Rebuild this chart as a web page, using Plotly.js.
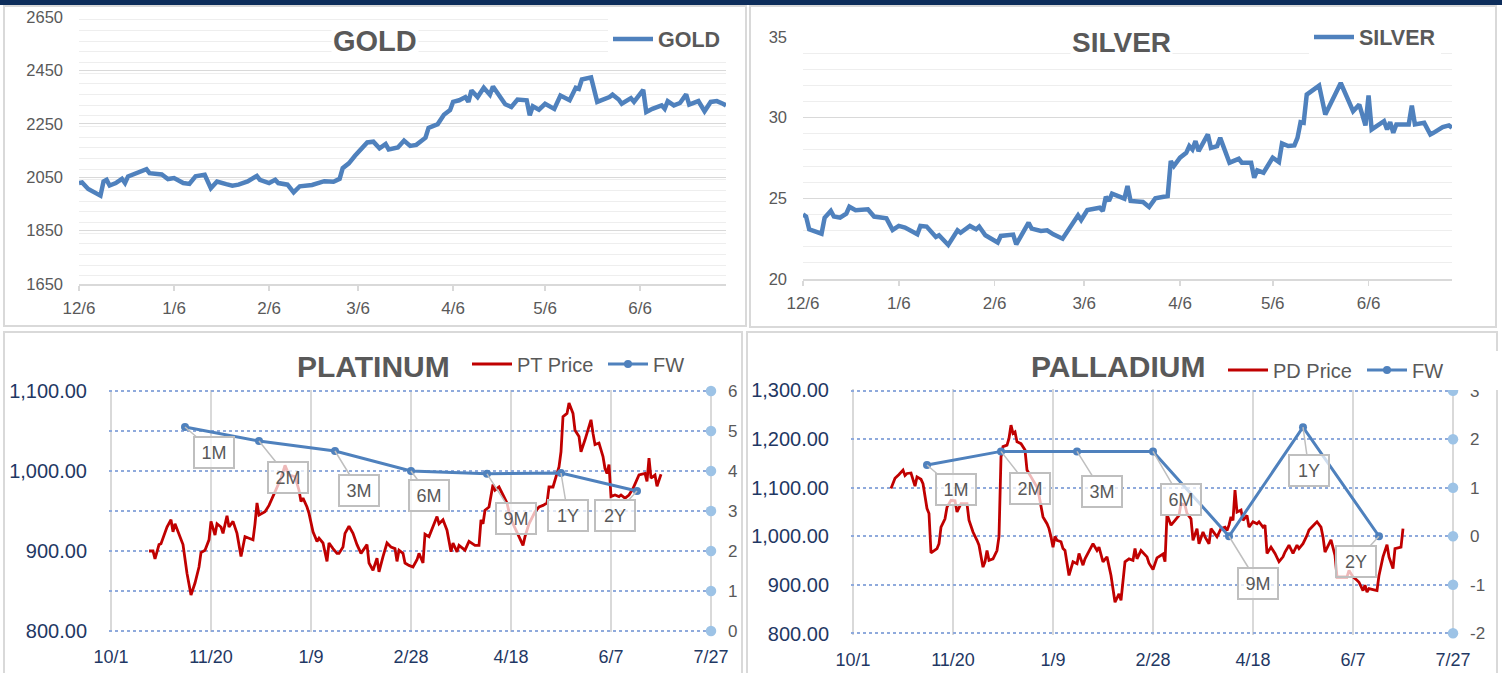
<!DOCTYPE html>
<html><head><meta charset="utf-8">
<script src="https://cdn.plot.ly/plotly-3.0.1.min.js"></script>
<style>html,body{margin:0;padding:0;background:#fff;overflow:hidden;}#chart{width:1502px;height:673px;}</style>
</head><body><div id="chart"></div>
<script>
// ---------------- DATA ----------------
const goldDates = ['2023-12-06','2023-12-07','2023-12-09','2023-12-11','2023-12-13','2023-12-14','2023-12-15','2023-12-16','2023-12-18','2023-12-20','2023-12-21','2023-12-22','2023-12-25','2023-12-28','2023-12-29','2024-01-02','2024-01-04','2024-01-06','2024-01-09','2024-01-11','2024-01-13','2024-01-16','2024-01-18','2024-01-20','2024-01-23','2024-01-25','2024-01-27','2024-01-30','2024-02-02','2024-02-03','2024-02-06','2024-02-08','2024-02-09','2024-02-12','2024-02-14','2024-02-16','2024-02-20','2024-02-22','2024-02-24','2024-02-27','2024-02-29','2024-03-01','2024-03-03','2024-03-05','2024-03-07','2024-03-09','2024-03-11','2024-03-13','2024-03-15','2024-03-16','2024-03-19','2024-03-21','2024-03-23','2024-03-25','2024-03-28','2024-03-29','2024-04-01','2024-04-03','2024-04-05','2024-04-06','2024-04-08','2024-04-10','2024-04-11','2024-04-12','2024-04-14','2024-04-16','2024-04-18','2024-04-19','2024-04-23','2024-04-25','2024-04-27','2024-04-30','2024-05-01','2024-05-02','2024-05-04','2024-05-06','2024-05-09','2024-05-11','2024-05-14','2024-05-16','2024-05-17','2024-05-18','2024-05-21','2024-05-23','2024-05-27','2024-05-28','2024-05-30','2024-05-31','2024-06-03','2024-06-04','2024-06-07','2024-06-08','2024-06-10','2024-06-13','2024-06-14','2024-06-15','2024-06-17','2024-06-19','2024-06-21','2024-06-22','2024-06-25','2024-06-27','2024-06-29','2024-07-01','2024-07-03','2024-07-04'];
const goldValues = [2028,2030,2006,1993,1981,2034,2040,2019,2028,2044,2028,2053,2065,2080,2065,2060,2043,2047,2028,2025,2053,2059,2009,2034,2024,2018,2022,2034,2055,2040,2028,2040,2028,2022,1993,2016,2021,2030,2035,2033,2044,2084,2102,2130,2154,2180,2183,2158,2174,2154,2161,2187,2167,2171,2198,2235,2249,2284,2301,2332,2338,2350,2332,2375,2350,2385,2359,2390,2323,2313,2341,2338,2282,2316,2303,2325,2306,2356,2338,2385,2381,2416,2424,2332,2350,2359,2341,2325,2346,2332,2377,2294,2306,2319,2306,2335,2319,2328,2360,2322,2335,2297,2332,2335,2325,2319];

const silverDates = ['2023-12-06','2023-12-07','2023-12-08','2023-12-10','2023-12-12','2023-12-13','2023-12-15','2023-12-16','2023-12-18','2023-12-20','2023-12-21','2023-12-23','2023-12-27','2023-12-29','2024-01-02','2024-01-04','2024-01-06','2024-01-08','2024-01-12','2024-01-13','2024-01-15','2024-01-18','2024-01-19','2024-01-22','2024-01-25','2024-01-26','2024-01-29','2024-01-31','2024-02-01','2024-02-03','2024-02-05','2024-02-07','2024-02-08','2024-02-12','2024-02-13','2024-02-17','2024-02-18','2024-02-21','2024-02-23','2024-02-25','2024-02-28','2024-03-02','2024-03-04','2024-03-05','2024-03-07','2024-03-11','2024-03-12','2024-03-13','2024-03-14','2024-03-15','2024-03-19','2024-03-20','2024-03-21','2024-03-25','2024-03-27','2024-03-29','2024-04-02','2024-04-03','2024-04-04','2024-04-06','2024-04-08','2024-04-09','2024-04-10','2024-04-11','2024-04-12','2024-04-15','2024-04-16','2024-04-18','2024-04-19','2024-04-22','2024-04-23','2024-04-25','2024-04-26','2024-04-29','2024-04-30','2024-05-01','2024-05-03','2024-05-05','2024-05-06','2024-05-08','2024-05-09','2024-05-11','2024-05-13','2024-05-14','2024-05-15','2024-05-16','2024-05-17','2024-05-21','2024-05-23','2024-05-28','2024-06-01','2024-06-03','2024-06-05','2024-06-06','2024-06-07','2024-06-11','2024-06-12','2024-06-13','2024-06-14','2024-06-15','2024-06-19','2024-06-20','2024-06-21','2024-06-24','2024-06-26','2024-06-27','2024-06-30','2024-07-02','2024-07-03'];
const silverValues = [24.0,23.87,23.08,22.98,22.81,23.8,24.22,23.87,23.8,24.05,24.48,24.26,24.32,23.87,23.76,23.04,23.29,23.19,22.77,23.29,23.25,22.61,22.71,22.11,23.02,22.87,23.29,23.08,23.25,22.71,22.46,22.26,22.67,22.75,22.15,23.49,23.12,22.98,23.02,22.77,22.5,23.39,23.95,23.66,24.28,24.42,24.22,25.1,24.84,25.29,24.98,25.76,24.84,24.77,24.46,25.0,25.14,27.31,27.0,27.52,27.82,28.24,28.03,28.55,27.93,28.96,28.13,28.24,28.75,27.21,27.27,27.45,27.21,27.21,26.28,26.73,26.59,27.27,27.52,27.25,28.4,28.24,28.28,28.75,29.72,29.68,31.43,31.99,30.2,32.15,30.4,30.81,29.52,31.37,29.27,29.78,29.27,29.72,29.06,29.58,29.58,30.75,29.58,29.68,28.96,29.06,29.41,29.52,29.37];

const ptDates = ['2023-10-20','2023-10-22','2023-10-23','2023-10-25','2023-10-26','2023-10-29','2023-10-31','2023-11-01','2023-11-02','2023-11-04','2023-11-06','2023-11-08','2023-11-10','2023-11-12','2023-11-14','2023-11-15','2023-11-17','2023-11-19','2023-11-20','2023-11-22','2023-11-23','2023-11-25','2023-11-26','2023-11-28','2023-11-29','2023-12-01','2023-12-03','2023-12-05','2023-12-07','2023-12-09','2023-12-11','2023-12-12','2023-12-13','2023-12-14','2023-12-17','2023-12-19','2023-12-21','2023-12-23','2023-12-25','2023-12-27','2023-12-29','2024-01-01','2024-01-03','2024-01-04','2024-01-05','2024-01-07','2024-01-08','2024-01-10','2024-01-12','2024-01-13','2024-01-15','2024-01-17','2024-01-18','2024-01-20','2024-01-22','2024-01-23','2024-01-25','2024-01-26','2024-01-28','2024-01-30','2024-02-01','2024-02-03','2024-02-06','2024-02-07','2024-02-09','2024-02-11','2024-02-12','2024-02-14','2024-02-16','2024-02-18','2024-02-20','2024-02-21','2024-02-22','2024-02-24','2024-02-25','2024-02-27','2024-02-29','2024-03-02','2024-03-03','2024-03-05','2024-03-06','2024-03-08','2024-03-10','2024-03-12','2024-03-13','2024-03-15','2024-03-17','2024-03-19','2024-03-20','2024-03-22','2024-03-23','2024-03-26','2024-03-28','2024-03-31','2024-04-02','2024-04-03','2024-04-04','2024-04-05','2024-04-07','2024-04-09','2024-04-10','2024-04-12','2024-04-14','2024-04-16','2024-04-17','2024-04-19','2024-04-22','2024-04-24','2024-04-25','2024-04-27','2024-04-30','2024-05-02','2024-05-04','2024-05-06','2024-05-07','2024-05-09','2024-05-11','2024-05-12','2024-05-13','2024-05-14','2024-05-16','2024-05-17','2024-05-19','2024-05-20','2024-05-22','2024-05-23','2024-05-25','2024-05-27','2024-05-28','2024-05-29','2024-05-30','2024-06-01','2024-06-03','2024-06-04','2024-06-05','2024-06-06','2024-06-07','2024-06-09','2024-06-11','2024-06-12','2024-06-14','2024-06-16','2024-06-18','2024-06-21','2024-06-23','2024-06-24','2024-06-25','2024-06-26','2024-06-27','2024-06-29','2024-06-30','2024-07-02'];
const ptPrice = [900,900,890,908,909,930,939,924,934,922,908,872,845,860,880,898,901,914,937,920,934,930,922,944,930,937,922,893,918,916,914,934,960,945,949,957,968,978,991,1007,995,993,976,962,966,955,947,924,912,916,910,887,910,903,897,897,905,922,931,922,908,897,908,885,876,891,874,893,910,905,903,887,901,897,885,882,880,889,897,885,921,918,930,943,934,939,926,899,910,899,907,901,912,907,907,939,934,951,955,983,976,980,970,960,949,934,918,907,918,934,949,955,957,960,980,980,997,1005,1024,1068,1072,1085,1072,1051,1043,1024,1039,1055,1064,1047,1033,1035,1018,1003,997,1008,968,970,968,970,966,970,978,995,997,997,987,1016,991,995,981,996];

const pdDates = ['2023-10-20','2023-10-22','2023-10-24','2023-10-26','2023-10-27','2023-10-28','2023-10-30','2023-11-01','2023-11-02','2023-11-04','2023-11-05','2023-11-07','2023-11-08','2023-11-09','2023-11-12','2023-11-13','2023-11-14','2023-11-16','2023-11-17','2023-11-19','2023-11-21','2023-11-22','2023-11-24','2023-11-27','2023-11-28','2023-11-30','2023-12-02','2023-12-03','2023-12-05','2023-12-06','2023-12-07','2023-12-08','2023-12-10','2023-12-12','2023-12-13','2023-12-14','2023-12-15','2023-12-17','2023-12-18','2023-12-19','2023-12-20','2023-12-21','2023-12-22','2023-12-24','2023-12-26','2023-12-27','2023-12-29','2024-01-01','2024-01-02','2024-01-04','2024-01-06','2024-01-07','2024-01-08','2024-01-09','2024-01-10','2024-01-11','2024-01-13','2024-01-14','2024-01-15','2024-01-17','2024-01-19','2024-01-21','2024-01-22','2024-01-24','2024-01-25','2024-01-27','2024-01-29','2024-01-31','2024-02-01','2024-02-03','2024-02-05','2024-02-07','2024-02-08','2024-02-09','2024-02-11','2024-02-12','2024-02-14','2024-02-16','2024-02-18','2024-02-19','2024-02-20','2024-02-22','2024-02-25','2024-02-26','2024-02-28','2024-03-01','2024-03-04','2024-03-05','2024-03-06','2024-03-08','2024-03-10','2024-03-12','2024-03-13','2024-03-15','2024-03-16','2024-03-18','2024-03-19','2024-03-21','2024-03-22','2024-03-24','2024-03-25','2024-03-27','2024-03-28','2024-03-30','2024-03-31','2024-04-02','2024-04-04','2024-04-05','2024-04-06','2024-04-07','2024-04-08','2024-04-09','2024-04-10','2024-04-12','2024-04-13','2024-04-15','2024-04-16','2024-04-18','2024-04-20','2024-04-21','2024-04-23','2024-04-24','2024-04-25','2024-04-27','2024-04-29','2024-05-01','2024-05-03','2024-05-04','2024-05-06','2024-05-08','2024-05-10','2024-05-11','2024-05-13','2024-05-15','2024-05-16','2024-05-19','2024-05-20','2024-05-22','2024-05-23','2024-05-24','2024-05-26','2024-05-27','2024-05-29','2024-05-30','2024-06-02','2024-06-04','2024-06-05','2024-06-07','2024-06-09','2024-06-10','2024-06-12','2024-06-13','2024-06-14','2024-06-15','2024-06-17','2024-06-19','2024-06-20','2024-06-22','2024-06-24','2024-06-25','2024-06-27','2024-06-28','2024-06-30','2024-07-01','2024-07-02'];
const pdPrice = [1098,1119,1127,1136,1125,1129,1130,1103,1122,1117,1108,1057,1047,966,975,985,1019,1036,1060,1074,1073,1050,1067,1067,1033,1009,992,982,937,948,971,951,954,971,1000,1163,1184,1187,1201,1228,1211,1214,1194,1190,1177,1136,1122,1101,1084,1040,1026,1016,999,978,1000,992,989,975,971,920,948,944,965,941,954,968,985,971,978,948,958,920,896,865,882,869,948,954,951,975,954,971,958,945,932,956,964,948,1045,1023,1033,1043,1067,1064,1047,1036,992,1016,985,1009,999,985,1016,1006,999,1016,1019,1012,1023,1040,1033,1095,1050,1054,1033,1043,1019,1030,1026,1030,1019,1023,965,978,965,948,958,968,982,965,982,975,985,1002,1013,1026,1030,1019,999,968,985,993,961,917,917,917,930,917,910,906,889,900,886,893,891,889,920,958,983,958,934,975,977,978,1016];

const fwLabels = ['1M','2M','3M','6M','9M','1Y','2Y'];
const fwDates = ['2023-11-07','2023-12-14','2024-01-21','2024-02-28','2024-04-06','2024-05-13','2024-06-20'];
const ptFW = [5.1,4.75,4.5,4.0,3.93,3.95,3.5];
const pdFW = [1.47,1.75,1.75,1.75,0.0,2.25,0.0];

const ptRightTicks = [0,1,2,3,4,5,6];
const pdRightTicks = [-2,-1,0,1,2,3];

// ---------------- STYLE / POSITIONS ----------------
const W = 1502, H = 673;
const px = x => x / W, py = y => 1 - y / H;
const FONT = 'Liberation Sans, Arial, sans-serif';
const GRAY = '#595959', NAVY = '#1F3864', BLUE = '#4F81BD', RED = '#C00000';
const DOT_BLUE = '#8FAADC', DOT_RIGHT = '#9DC3E6';
const ptCalloutOffsets = [[29,25],[29,36],[24,39],[18,24],[29,45],[7,42],[-22,24]];
const pdCalloutOffsets = [[29,25],[29,37],[25,40],[28,48],[29,47],[6,43],[-23,25]];
const BOTTOM_X_START = '2023-10-01', BOTTOM_X_END = '2024-07-27';
// one day of padding on each side (domain widened by the same 2 px) so edge grid lines are drawn
const BOTTOM_X_RANGE = ['2023-09-30', '2024-07-28'];
const DAY = 86400000;

const traces = [
  {x: goldDates, y: goldValues, xaxis:'x', yaxis:'y', type:'scatter', mode:'lines', name:'GOLD',
   line:{color:BLUE, width:4.5}, legend:'legend'},
  {x: silverDates, y: silverValues, xaxis:'x2', yaxis:'y2', type:'scatter', mode:'lines', name:'SILVER',
   line:{color:BLUE, width:4.5}, legend:'legend2'},
  {x: ptDates, y: ptPrice, xaxis:'x3', yaxis:'y3', type:'scatter', mode:'lines', name:'PT Price',
   line:{color:RED, width:2.8}, legend:'legend3'},
  {x: fwDates, y: ptFW, xaxis:'x3', yaxis:'y4', type:'scatter', mode:'lines+markers', name:'FW',
   line:{color:BLUE, width:3}, marker:{color:BLUE, size:8}, legend:'legend3'},
  {x: ptRightTicks.map(() => BOTTOM_X_END), y: ptRightTicks, xaxis:'x3', yaxis:'y4', type:'scatter',
   mode:'markers', marker:{color:DOT_RIGHT, size:10.5}, showlegend:false, cliponaxis:false, hoverinfo:'skip'},
  {x: pdDates, y: pdPrice, xaxis:'x4', yaxis:'y5', type:'scatter', mode:'lines', name:'PD Price',
   line:{color:RED, width:2.8}, legend:'legend4'},
  {x: fwDates, y: pdFW, xaxis:'x4', yaxis:'y6', type:'scatter', mode:'lines+markers', name:'FW',
   line:{color:BLUE, width:3}, marker:{color:BLUE, size:8}, legend:'legend4'},
  {x: pdRightTicks.map(() => BOTTOM_X_END), y: pdRightTicks, xaxis:'x4', yaxis:'y6', type:'scatter',
   mode:'markers', marker:{color:DOT_RIGHT, size:10.5}, showlegend:false, cliponaxis:false, hoverinfo:'skip'}
];

const topX = (dom, anchor, end) => ({
  domain: dom, anchor: anchor, type:'date', range:['2023-12-06', end],
  tick0:'2023-12-06', dtick:'M1', tickformat:'%-m/%-d',
  showgrid:false, showline:true, linecolor:'#D9D9D9', linewidth:1.5,
  ticks:'outside', ticklen:5, tickcolor:'#D9D9D9', tickwidth:1.5,
  tickfont:{family:FONT, size:17, color:GRAY}, ticklabelstandoff:3, zeroline:false
});
const topY = (dom, anchor, range, dtick, minor) => ({
  domain: dom, anchor: anchor, range: range, tick0: range[0], dtick: dtick,
  showgrid:true, gridcolor:'#D9D9D9', gridwidth:1.3, showline:false, zeroline:false,
  minor:{dtick:minor, showgrid:true, gridcolor:'#EEEEEE', gridwidth:1},
  ticks:'', tickfont:{family:FONT, size:16.5, color:GRAY}, ticklabelstandoff:15
});
const botX = (dom, anchor) => ({
  domain: dom, anchor: anchor, type:'date', range: BOTTOM_X_RANGE,
  tick0: BOTTOM_X_START, dtick: 50*DAY, tickformat:'%-m/%-d',
  showgrid:true, gridcolor:'#D9D9D9', gridwidth:1.5, showline:false, zeroline:false,
  ticks:'', tickfont:{family:FONT, size:18, color:NAVY}, ticklabelstandoff:12
});
const botYL = (dom, anchor, range) => ({
  domain: dom, anchor: anchor, range: range, dtick:100, tick0:0, tickformat:',.2f',
  showgrid:false, zeroline:false, showline:false, ticks:'',
  tickfont:{family:FONT, size:20, color:NAVY}, ticklabelstandoff:21
});
const botYR = (over, anchor, range, ticks) => ({
  overlaying: over, anchor: anchor, side:'right', range: range,
  tickmode:'array', tickvals: ticks, ticktext: ticks.map(String),
  showgrid:true, griddash:'dot', gridcolor:DOT_BLUE, gridwidth:1.6, zeroline:false, showline:false, ticks:'',
  tickfont:{family:FONT, size:17, color:GRAY}, ticklabelstandoff:14
});

const titleAnn = (text, x, y, size) => ({
  text: '<b>' + text + '</b>', xref:'paper', yref:'paper', x: px(x), y: py(y),
  xanchor:'center', yanchor:'middle', showarrow:false, bgcolor:'#FFFFFF',
  font:{family:FONT, size:size, color:GRAY}
});

const callouts = (labels, dates, vals, offsets, xref, yref) => labels.map((t, i) => ({
  text: t, x: dates[i], y: vals[i], xref: xref, yref: yref,
  showarrow:true, ax: offsets[i][0], ay: offsets[i][1], arrowhead:0, arrowwidth:1.5,
  arrowcolor:'#BFBFBF', standoff:0,
  bordercolor:'#BFBFBF', borderwidth:2, borderpad:1, bgcolor:'rgba(255,255,255,0.72)',
  width:36, height:27, font:{family:FONT, size:18, color:GRAY}
}));

const panel = (x0, y0, x1, y1) => ({type:'rect', xref:'paper', yref:'paper',
  x0: px(x0), x1: px(x1), y0: py(y1), y1: py(y0), line:{color:'#D9D9D9', width:2}, layer:'below'});

const legendBase = (x, y, size, bold, entry) => {
  const l = {
    x: px(x), y: py(y), xanchor:'left', yanchor:'middle', orientation:'h',
    bgcolor:'#FFFFFF', borderwidth:0, itemwidth:40,
    font:{family:FONT, size:size, color:GRAY, weight: bold ? 'bold' : 'normal'}
  };
  if (entry) { l.entrywidth = entry; l.entrywidthmode = 'pixels'; }
  return l;
};

const layout = {
  width: W, height: H, autosize:false,
  margin:{l:0, r:0, t:0, b:0, autoexpand:false},
  paper_bgcolor:'#FFFFFF', plot_bgcolor:'rgba(0,0,0,0)',
  font:{family:FONT},
  xaxis: topX([px(79), px(726)], 'y', '2024-07-04'),
  yaxis: topY([py(284), py(16.2)], 'x', [1650, 2653], 200, 40),
  xaxis2: topX([px(803), px(1452)], 'y2', '2024-07-03'),
  yaxis2: topY([py(279), py(36.2)], 'x2', [20, 35.05], 5, 1),
  xaxis3: botX([px(109), px(713)], 'y3'),
  yaxis3: botYL([py(632.2), py(389.8)], 'x3', [798.5, 1101.5]),
  yaxis4: botYR('y3', 'x3', [-0.03, 6.03], ptRightTicks),
  xaxis4: botX([px(851), px(1455)], 'y5'),
  yaxis5: botYL([py(634.7), py(389.3)], 'x4', [798.5, 1301.5]),
  yaxis6: botYR('y5', 'x4', [-2.03, 3.03], pdRightTicks),
  legend: legendBase(608, 39, 21.5, true),
  legend2: legendBase(1309, 37, 21.5, true),
  legend3: legendBase(467, 364, 20, false, 81),
  legend4: legendBase(1223, 370, 20, false, 84),
  shapes: [
    {type:'rect', xref:'paper', yref:'paper', x0:0, x1:1, y0:py(5), y1:1, fillcolor:'#0D2D5B', line:{width:0}, layer:'above'},
    panel(4, 6, 746, 326), panel(750, 6, 1496, 327),
    panel(4, 332, 742, 680), panel(747, 332, 1497, 680)
  ],
  annotations: [
    titleAnn('GOLD', 375, 41, 29),
    titleAnn('SILVER', 1121, 42, 28),
    titleAnn('PLATINUM', 373, 367, 30),
    titleAnn('PALLADIUM', 1118, 367, 30),
    ...callouts(fwLabels, fwDates, ptFW, ptCalloutOffsets, 'x3', 'y4'),
    ...callouts(fwLabels, fwDates, pdFW, pdCalloutOffsets, 'x4', 'y6')
  ],
  showlegend: true
};

Plotly.newPlot('chart', traces, layout, {displayModeBar:false, staticPlot:true});
</script></body></html>
